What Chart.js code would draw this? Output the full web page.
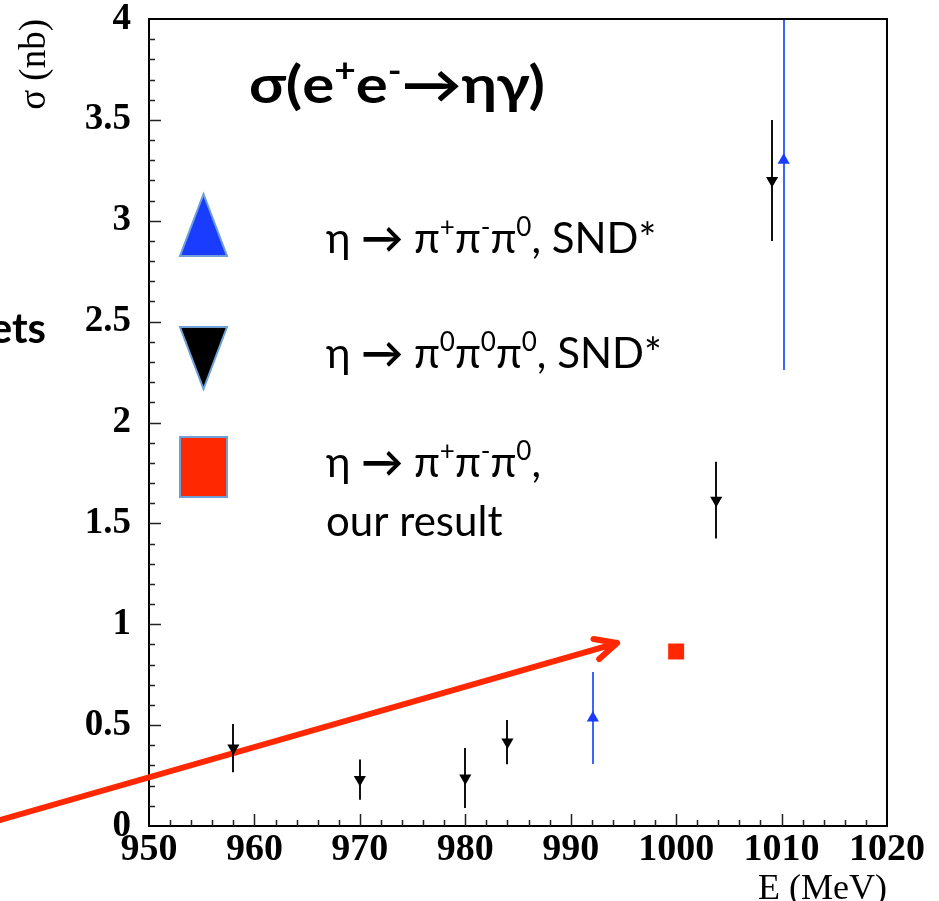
<!DOCTYPE html>
<html>
<head>
<meta charset="UTF-8">
<title>sigma(ee -> eta gamma)</title>
<style>
body { margin: 0; background: #fff; }
#chart { display: block; }
</style>
<script src="https://cdn.jsdelivr.net/npm/chart.js"></script>
</head>
<body>
	<canvas id="chart" width="939" height="901"></canvas>

	<script>
		// eta -> pi+ pi- pi0, SND (blue up triangles)
		const blueE = [992.1, 1010.2];
		const blueSig = [0.535, 3.30];
		const blueErr = [0.228, 1.04];
		// eta -> 3 pi0, SND (black down triangles)
		const blackE = [958, 970, 980, 984, 1003.8, 1009.1];
		const blackSig = [0.386, 0.23, 0.238, 0.416, 1.615, 3.20];
		const blackErr = [0.12, 0.10, 0.149, 0.11, 0.19, 0.30];
		// our result (red square)
		const redE = [1000];
		const redSig = [0.865];
		// axis ranges
		const xRange = [950, 1020];
		const yRange = [0, 4];
		// annotation arrow, in data coordinates (start, tip)
		const arrowFrom = [935.9, 0.03];
		const arrowTo = [994.4, 0.907];

		const RED = 'rgb(255,40,0)';
		const BLUE = 'rgb(25,60,255)';
		const BLUE_LINE = 'rgb(60,100,255)';
		const EDGE = 'rgb(110,160,215)';
		const SANS = 'Lato, "Open Sans", "DejaVu Sans", sans-serif';

		function pts(xs, ys, es) {
			return xs.map((x, i) => ({ x: x, y: ys[i], err: es ? es[i] : 0 }));
		}

		// text with superscripts: [text, isSup, bold?]; optional width to stretch to
		function rich(ctx, x, y, segs, size, weight, fitWidth) {
			const fontOf = s => (s[2] ? 'bold' : weight) + ' ' + (s[1] ? size * 0.62 : size) + 'px ' + SANS;
			let total = 0;
			segs.forEach(s => { ctx.font = fontOf(s); total += ctx.measureText(s[0]).width; });
			const k = fitWidth ? fitWidth / total : 1;
			ctx.save();
			ctx.translate(x, y);
			ctx.scale(k, 1);
			ctx.textBaseline = 'alphabetic';
			ctx.textAlign = 'left';
			let cx = 0;
			segs.forEach(s => {
				ctx.font = fontOf(s);
				ctx.fillText(s[0], cx, s[1] ? -size * 0.4 : 0);
				cx += ctx.measureText(s[0]).width;
			});
			ctx.restore();
		}

		const errorBars = {
			id: 'errorBars',
			beforeDatasetsDraw(chart) {
				const { ctx, chartArea: a, scales: { x, y } } = chart;
				// red arrow
				const x0 = x.getPixelForValue(arrowFrom[0]), y0 = y.getPixelForValue(arrowFrom[1]);
				const x1 = x.getPixelForValue(arrowTo[0]), y1 = y.getPixelForValue(arrowTo[1]);
				const ang = Math.atan2(y1 - y0, x1 - x0);
				ctx.save();
				ctx.strokeStyle = RED;
				ctx.lineWidth = 6;
				ctx.lineCap = 'round';
				ctx.beginPath();
				ctx.moveTo(x0, y0);
				ctx.lineTo(x1, y1);
				[-0.45, 0.45].forEach(d => {
					ctx.moveTo(x1, y1);
					ctx.lineTo(x1 - 24 * Math.cos(ang + d), y1 - 24 * Math.sin(ang + d));
				});
				ctx.stroke();
				ctx.restore();

				ctx.save();
				ctx.beginPath();
				ctx.rect(a.left, a.top, a.right - a.left, a.bottom - a.top);
				ctx.clip();
				chart.data.datasets.forEach(ds => {
					ctx.strokeStyle = ds.barColor;
					ctx.lineWidth = 2;
					ds.data.forEach(p => {
						if (!p.err) return;
						const px = Math.round(x.getPixelForValue(p.x));
						ctx.beginPath();
						ctx.moveTo(px, y.getPixelForValue(p.y - p.err));
						ctx.lineTo(px, y.getPixelForValue(p.y + p.err));
						ctx.stroke();
					});
				});
				ctx.restore();
			},
			afterDraw(chart) {
				const { ctx, chartArea: a, scales: { x, y } } = chart;
				ctx.save();
				// frame top/right
				ctx.strokeStyle = '#000';
				ctx.lineWidth = 2;
				ctx.beginPath();
				ctx.moveTo(a.left, a.top);
				ctx.lineTo(a.right, a.top);
				ctx.lineTo(a.right, a.bottom);
				ctx.stroke();
				// inner ticks
				ctx.strokeStyle = '#222';
				ctx.lineWidth = 1.5;
				ctx.beginPath();
				for (let v = xRange[0] + 2; v < xRange[1]; v += 2) {
					const px = Math.round(x.getPixelForValue(v)) + 0.5;
					const len = (v % 10 === 0) ? 12 : 6;
					ctx.moveTo(px, a.bottom);
					ctx.lineTo(px, a.bottom - len);
				}
				for (let k = 1; k < 40; k++) {
					const py = Math.round(y.getPixelForValue(k / 10)) + 0.5;
					const len = (k % 5 === 0) ? 12 : 6;
					ctx.moveTo(a.left, py);
					ctx.lineTo(a.left + len, py);
				}
				ctx.stroke();

				// title
				ctx.fillStyle = '#000';
				rich(ctx, 249, 103, [['σ(e', 0], ['+', 1], ['e', 0], ['-', 1], ['→', 0, 1], ['ηγ)', 0]], 52, 'bold', 296);

				// legend icons
				ctx.lineWidth = 2;
				ctx.strokeStyle = EDGE;
				ctx.fillStyle = BLUE;
				ctx.beginPath();
				ctx.moveTo(180, 256); ctx.lineTo(227, 256); ctx.lineTo(203.5, 194); ctx.closePath();
				ctx.fill(); ctx.stroke();
				ctx.fillStyle = '#000';
				ctx.beginPath();
				ctx.moveTo(180, 327); ctx.lineTo(227, 327); ctx.lineTo(203.5, 389); ctx.closePath();
				ctx.fill(); ctx.stroke();
				ctx.fillStyle = RED;
				ctx.fillRect(180, 437, 47, 60);
				ctx.strokeRect(180, 437, 47, 60);

				// legend texts
				ctx.fillStyle = '#000';
				rich(ctx, 326, 253, [['η ', 0], ['→', 0, 1], [' π', 0], ['+', 1], ['π', 0], ['-', 1], ['π', 0], ['0', 1], [', SND*', 0]], 42, 'normal');
				rich(ctx, 326, 368, [['η ', 0], ['→', 0, 1], [' π', 0], ['0', 1], ['π', 0], ['0', 1], ['π', 0], ['0', 1], [', SND*', 0]], 42, 'normal');
				rich(ctx, 326, 477, [['η ', 0], ['→', 0, 1], [' π', 0], ['+', 1], ['π', 0], ['-', 1], ['π', 0], ['0', 1], [',', 0]], 42, 'normal');
				rich(ctx, 326, 536, [['our result', 0]], 42, 'normal');

				// cut-off slide text at the left edge
				ctx.font = 'bold 42px ' + SANS;
				ctx.textAlign = 'right';
				ctx.fillText('ets', 46, 343);
				ctx.restore();
			}
		};

		const serif = (size, weight) => ({ family: '"Liberation Serif", "Times New Roman", serif', size: size, weight: weight });

		const config = {
			type: 'scatter',
			data: {
				datasets: [
					{
						label: 'eta -> pi+pi-pi0, SND*',
						data: pts(blueE, blueSig, blueErr),
						pointStyle: 'triangle',
						radius: 7,
						backgroundColor: BLUE,
						borderWidth: 0,
						barColor: BLUE_LINE
					},
					{
						label: 'eta -> pi0pi0pi0, SND*',
						data: pts(blackE, blackSig, blackErr),
						pointStyle: 'triangle',
						rotation: 180,
						radius: 7,
						backgroundColor: '#000',
						borderWidth: 0,
						barColor: '#111'
					},
					{
						label: 'our result',
						data: pts(redE, redSig, null),
						pointStyle: 'rect',
						radius: 11.3,
						backgroundColor: RED,
						borderWidth: 0,
						barColor: RED
					}
				]
			},
			options: {
				responsive: false,
				animation: false,
				devicePixelRatio: 1,
				layout: { padding: { top: 19, right: 52, bottom: 0, left: 0 } },
				plugins: { legend: { display: false }, tooltip: { enabled: false } },
				scales: {
					x: {
						type: 'linear',
						min: xRange[0],
						max: xRange[1],
						afterFit: s => { s.height = 75; s.paddingLeft = 0; s.paddingRight = 0; },
						grid: { display: false, drawTicks: false },
						border: { display: true, color: '#000', width: 2 },
						ticks: {
							stepSize: 10,
							maxRotation: 0,
							autoSkip: false,
							padding: 1,
							color: '#000',
							font: serif(38, 'bold'),
							callback: v => String(v)
						},
						title: {
							display: true,
							text: 'E (MeV)',
							align: 'end',
							color: '#000',
							font: Object.assign(serif(36, 'normal'), { lineHeight: 0.65 }),
							padding: { top: 0, bottom: 0 }
						}
					},
					y: {
						min: yRange[0],
						max: yRange[1],
						afterFit: s => { s.width = 149; s.paddingTop = 0; s.paddingBottom = 0; },
						grid: { display: false, drawTicks: false },
						border: { display: true, color: '#000', width: 2 },
						ticks: {
							stepSize: 0.5,
							padding: 18,
							color: '#000',
							font: serif(37, 'bold'),
							callback: v => String(v)
						},
						title: {
							display: true,
							text: 'σ (nb)',
							align: 'end',
							color: '#000',
							font: Object.assign(serif(37, 'normal'), { lineHeight: 1 }),
							padding: { top: 17, bottom: 0 }
						}
					}
				}
			},
			plugins: [errorBars]
		};
		new Chart(document.getElementById('chart'), config);
	</script>
</body>
</html>
